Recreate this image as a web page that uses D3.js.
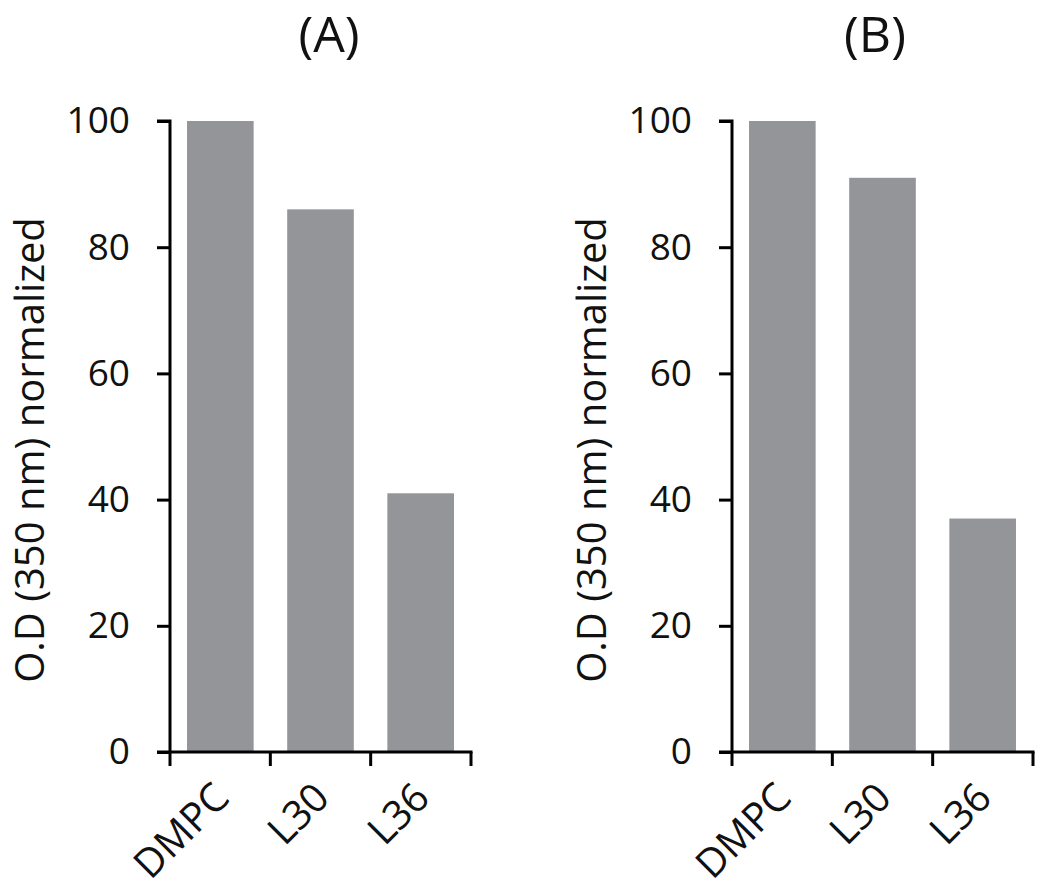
<!DOCTYPE html>
<html>
<head>
<meta charset="utf-8">
<script src="https://cdn.jsdelivr.net/npm/d3@7"></script>
<style>
  html, body { margin: 0; padding: 0; background: #ffffff; }
  svg { display: block; }
</style>
</head>
<body>
<svg id="chart" width="1050" height="893"></svg>
<script>
const categories = ["DMPC", "L30", "L36"];
const valuesA = [100, 86, 41];
const valuesB = [100, 91, 37];
const yTicks = [0, 20, 40, 60, 80, 100];
const panelTitles = ["(A)", "(B)"];
const yLabel = "O.D (350 nm) normalized";

const svg = d3.select("#chart");
const FONT = "'Open Sans', 'DejaVu Sans', sans-serif";
const barColor = "#939598";

const panels = [
  { values: valuesA, title: panelTitles[0], x0: 170, x1: 471, titleX: 329 },
  { values: valuesB, title: panelTitles[1], x0: 732, x1: 1033, titleX: 875 }
];

const yTop = 121, yBottom = 752;

panels.forEach(p => {
  const g = svg.append("g");
  const x = d3.scaleBand().domain(categories).range([p.x0, p.x1]).paddingInner(0.335).paddingOuter(0.17);
  const y = d3.scaleLinear().domain([0, 100]).range([yBottom, yTop]);

  // bars
  g.selectAll("rect.bar").data(categories).join("rect")
    .attr("class", "bar")
    .attr("x", d => x(d))
    .attr("width", x.bandwidth())
    .attr("y", (d, i) => y(p.values[i]))
    .attr("height", (d, i) => y(0) - y(p.values[i]))
    .attr("fill", barColor);

  // y axis
  const yAxis = d3.axisLeft(y).tickValues(yTicks).tickSize(13).tickPadding(27).tickFormat(d3.format("d"));
  const yg = g.append("g").attr("transform", `translate(${p.x0},0)`).call(yAxis);
  yg.select(".domain").attr("stroke", "#000").attr("stroke-width", 3).attr("d", `M-13,${yTop}H0V${yBottom}`);
  yg.selectAll(".tick line").attr("stroke", "#000").attr("stroke-width", 3);
  yg.selectAll(".tick text").attr("font-family", FONT).attr("font-size", 37).attr("fill", "#111");

  // x axis: boundaries between categories
  const bounds = d3.range(categories.length + 1).map(i => p.x0 + i * (p.x1 - p.x0) / categories.length);
  const xg = g.append("g");
  xg.append("line").attr("x1", p.x0 - 13).attr("x2", p.x1 + 1.5).attr("y1", yBottom).attr("y2", yBottom)
    .attr("stroke", "#000").attr("stroke-width", 3);
  xg.selectAll("line.xt").data(bounds).join("line").attr("class", "xt")
    .attr("x1", d => d).attr("x2", d => d).attr("y1", yBottom).attr("y2", yBottom + 14)
    .attr("stroke", "#000").attr("stroke-width", 3);
  xg.selectAll("text.xl").data(categories).join("text").attr("class", "xl")
    .attr("transform", d => `translate(${x(d) + x.bandwidth() / 2 + 11},${yBottom + 48}) rotate(-45)`)
    .attr("text-anchor", "end")
    .attr("font-family", FONT).attr("font-size", 40).attr("fill", "#111")
    .text(d => d);

  // y label
  g.append("text")
    .attr("transform", `translate(${p.x0 - 126},450) rotate(-90)`)
    .attr("text-anchor", "middle")
    .attr("font-family", FONT).attr("font-size", 40).attr("fill", "#111")
    .text(yLabel);

  // title
  g.append("text").attr("x", p.titleX).attr("y", 52).attr("text-anchor", "middle")
    .attr("font-family", FONT).attr("font-size", 50).attr("fill", "#111")
    .text(p.title);
});
</script>
</body>
</html>
